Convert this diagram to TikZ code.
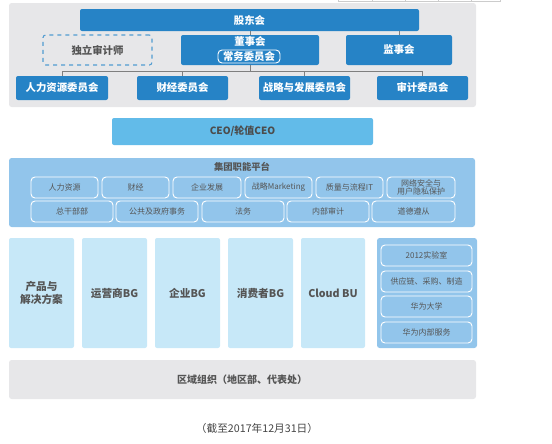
\documentclass[tikz,border=0pt]{standalone}
\usepackage{fontspec}
\setmainfont{Noto Sans CJK SC}
\definecolor{dblue}{HTML}{2683C6}
\definecolor{gpanel}{HTML}{E7E7E9}
\definecolor{ceoc}{HTML}{62BBE9}
\definecolor{platc}{HTML}{92C5EB}
\definecolor{lightc}{HTML}{C7E8F8}
\definecolor{tgray}{HTML}{555555}
\definecolor{lgray}{HTML}{7F7F7F}
\newcommand\bx[7]{\node[#6, minimum width={(#4-#2)*0.75pt}, minimum height={(#5-#3)*0.75pt}, inner sep=0pt] (#1) at ({(#2+#4)/2},{(#3+#5)/2}) {#7};}
\tikzset{
  x=0.75pt, y=-0.75pt,
  panel/.style={fill=gpanel, rounded corners=2pt},
  darkbox/.style={fill=dblue, rounded corners=1.5pt, text=white, font=\bfseries\fontsize{7.8}{9}\selectfont, align=center},
  dashbox/.style={draw=dblue!80, dashed, line width=0.8pt, rounded corners=2pt, text=tgray, font=\bfseries\fontsize{7.8}{9}\selectfont},
  ceobox/.style={fill=ceoc, rounded corners=1.5pt, text=tgray!90!black, font=\bfseries\fontsize{7.5}{9}\selectfont},
  platbox/.style={fill=platc, rounded corners=2pt},
  pitem/.style={draw=white, line width=0.7pt, rounded corners=3pt, text=tgray, font=\fontsize{6}{6.3}\selectfont, align=center},
  bgbox/.style={fill=lightc, rounded corners=1.5pt, text=tgray, font=\bfseries\fontsize{8}{10}\selectfont, align=center},
  conn/.style={draw=lgray, line width=0.6pt},
}
\begin{document}
\begin{tikzpicture}
\useasboundingbox (0,0) rectangle (552,443);
% faint table fragment at top
\draw[gray!40, line width=0.6pt] (338,1.5) -- (500,1.5);
\foreach \xx in {338,372,405,438,471,500} \draw[gray!40, line width=0.6pt] (\xx,0) -- (\xx,1.5);
% governance panel
\bx{gov}{9}{3}{476}{107}{panel}{}
\bx{gd}{80}{9}{419}{31}{darkbox}{股东会}
\bx{dlsj}{43}{35}{152}{65}{dashbox}{独立审计师}
\bx{dsh}{181}{35}{319}{65}{darkbox}{}
\node[text=white, font=\bfseries\fontsize{7.8}{9}\selectfont] (dshlab) at (250,42) {董事会};
\bx{cw}{218}{50}{280}{63}{draw=white, line width=0.7pt, rounded corners=3pt, text=white, font=\bfseries\fontsize{7.8}{9}\selectfont}{常务委员会}
\bx{jsh}{346}{35}{452}{65}{darkbox}{监事会}
\bx{hr}{16}{76}{108}{100}{darkbox}{人力资源委员会}
\bx{cj}{137}{76}{228}{100}{darkbox}{财经委员会}
\bx{zl}{259}{76}{350}{100}{darkbox}{战略与发展委员会}
\bx{sj}{377}{76}{468}{100}{darkbox}{审计委员会}
\coordinate (bus) at (250,71);
\draw[conn] (gd.south -| dsh.north) -- (dsh.north);
\draw[conn] (gd.south -| jsh.north) -- (jsh.north);
\draw[conn] (dsh.south) -- (bus);
\draw[conn] (hr.north |- bus) -- (sj.north |- bus);
\foreach \n in {hr,cj,zl,sj} \draw[conn] (\n.north |- bus) -- (\n.north);
% CEO
\bx{ceo}{112}{118}{373}{145}{ceobox}{CEO/轮值CEO}
% platform
\bx{plat}{9}{158}{475}{227}{platbox}{}
\node[text=tgray, font=\bfseries\fontsize{7}{8}\selectfont] (plattitle) at (242,167) {集团职能平台};
\bx{p1}{31}{177}{98}{198}{pitem}{人力资源}
\bx{p2}{102}{177}{169}{198}{pitem}{财经}
\bx{p3}{173}{177}{241}{198}{pitem}{企业发展}
\bx{p4}{245}{177}{312}{198}{pitem}{战略Marketing}
\bx{p5}{316}{177}{383}{198}{pitem}{质量与流程IT}
\bx{p6}{387}{177}{455}{198}{pitem}{网络安全与\\用户隐私保护}
\bx{q1}{31}{201}{113}{222}{pitem}{总干部部}
\bx{q2}{116}{201}{198}{222}{pitem}{公共及政府事务}
\bx{q3}{202}{201}{284}{222}{pitem}{法务}
\bx{q4}{287}{201}{369}{222}{pitem}{内部审计}
\bx{q5}{372}{201}{455}{222}{pitem}{道德遵从}
% BG row
\bx{b1}{9}{238}{74}{348}{bgbox}{产品与\\解决方案}
\bx{b2}{82}{238}{147}{348}{bgbox}{运营商BG}
\bx{b3}{155}{238}{220}{348}{bgbox}{企业BG}
\bx{b4}{228}{238}{293}{348}{bgbox}{消费者BG}
\bx{b5}{301}{238}{365}{348}{bgbox}{Cloud BU}
\bx{rp}{377}{238}{477}{348}{platbox}{}
\bx{r1}{381}{245}{472}{266}{pitem}{2012实验室}
\bx{r2}{381}{271}{472}{292}{pitem}{供应链、采购、制造}
\bx{r3}{381}{296}{472}{317}{pitem}{华为大学}
\bx{r4}{381}{322}{472}{343}{pitem}{华为内部服务}
% region
\bx{reg}{9}{360}{476}{399}{panel}{}
\node[text=tgray, font=\bfseries\fontsize{7.5}{9}\selectfont] (reglab) at (242,380) {区域组织（地区部、代表处）};
\node[text=tgray!80!black, font=\fontsize{8}{10}\selectfont] (cap) at (257,428) {（截至2017年12月31日）};
\end{tikzpicture}
\end{document}
